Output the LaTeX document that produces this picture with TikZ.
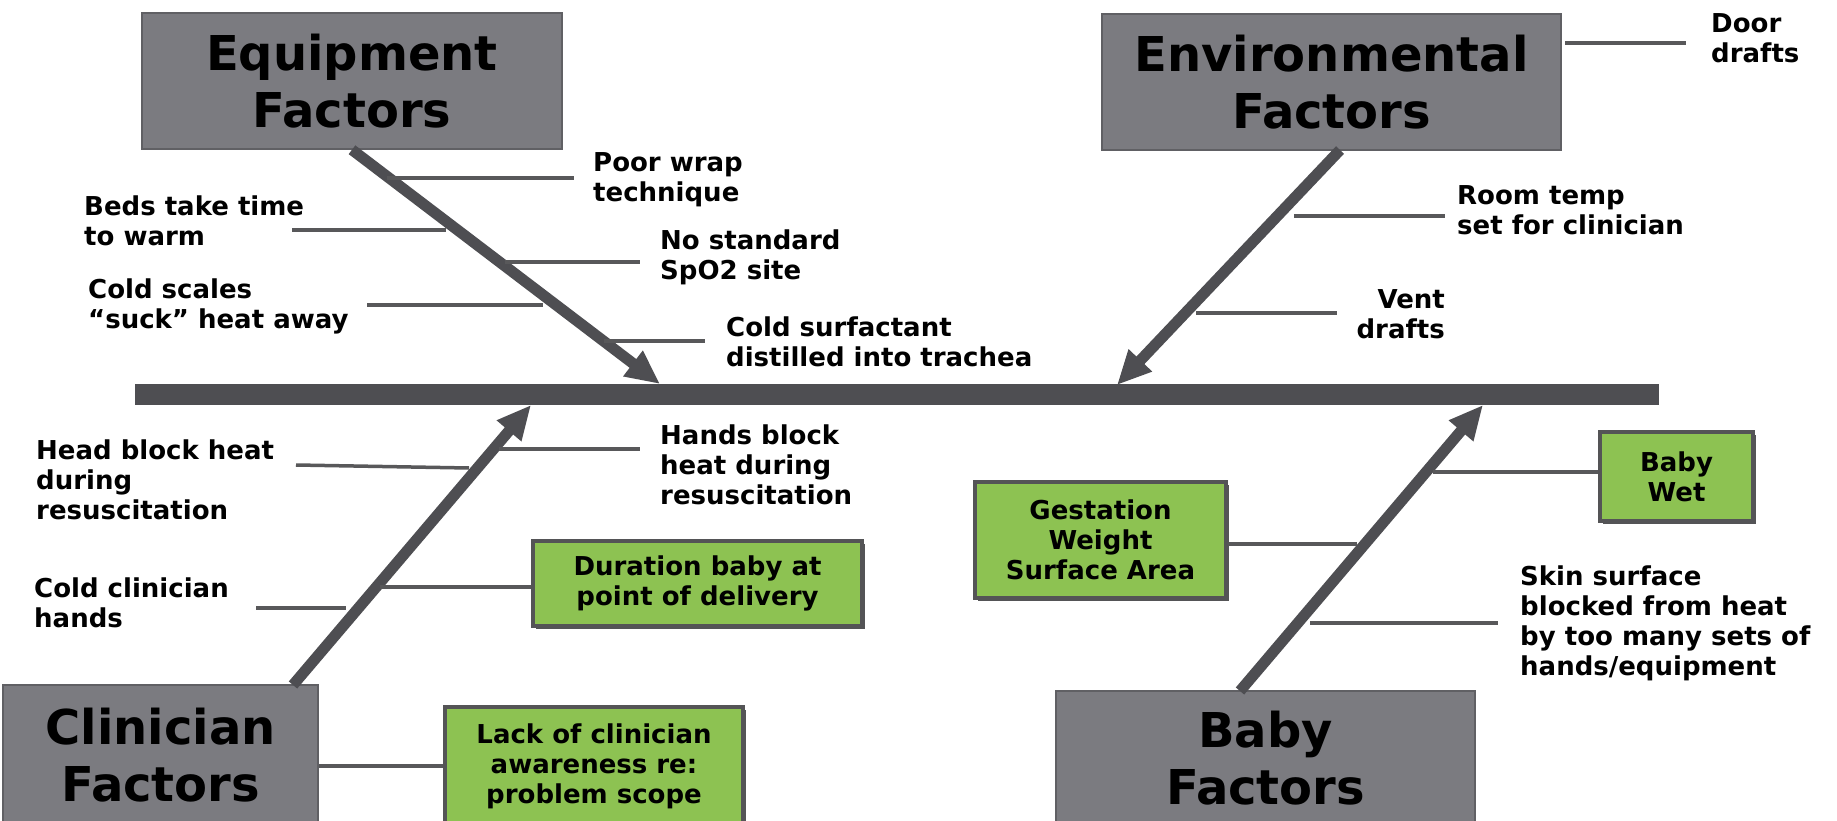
\documentclass[tikz,border=0pt]{standalone}
\usepackage{fontspec}
\setmainfont{DejaVu Sans}
\usetikzlibrary{arrows.meta,shadows,calc}
\definecolor{boxgray}{RGB}{123,123,128}
\definecolor{boxedge}{RGB}{96,96,100}
\definecolor{bonegray}{RGB}{78,78,82}
\definecolor{twiggray}{RGB}{88,88,90}
\definecolor{boxgreen}{RGB}{141,194,82}
\definecolor{greenedge}{RGB}{84,84,86}
\newcommand\FbTitle{\bfseries\fontsize{48}{57}\selectfont}
\newcommand\FbLabel{\bfseries\fontsize{26}{30}\selectfont}
\begin{document}
\begin{tikzpicture}[x=1pt,y=-1pt,
  title/.style={draw=boxedge,line width=1.5pt,fill=boxgray,font=\FbTitle,align=center,inner sep=0},
  cause/.style={font=\FbLabel,align=left,inner sep=0,anchor=west},
  gbox/.style={draw=greenedge,line width=4pt,fill=boxgreen,font=\FbLabel,align=center,inner sep=0,
    drop shadow={shadow xshift=3pt,shadow yshift=-3pt,fill=greenedge,opacity=1}},
  bone/.style={line width=11pt,draw=bonegray,-{Triangle[length=34pt,width=30pt]}},
  twig/.style={line width=3.5pt,draw=twiggray},
  spine/.style={line width=21pt,draw=bonegray}]
\useasboundingbox (0,0) rectangle (1837,821);
\clip (0,0) rectangle (1837,821);
\fill[white] (0,0) rectangle (1837,821);

% spine
\coordinate (sL) at (135,394.5);
\coordinate (sR) at (1659,394.5);
\draw[spine] (sL) -- (sR);

% category boxes
\node[title,minimum width=420,minimum height=136] (eq) at (352,81) {Equipment\\Factors};
\node[title,minimum width=459,minimum height=136] (env) at (1331.5,82) {Environmental\\Factors};
\node[title,minimum width=315,minimum height=140] (clin) at (160.5,755) {Clinician\\Factors};
\node[title,minimum width=419,minimum height=134] (baby) at (1265.5,758) {Baby\\Factors};

% main bones
\coordinate (eqTip) at (660,384);
\coordinate (envTail) at (1340,150);
\coordinate (envTip) at (1117,385);
\coordinate (clTail) at (293,685);
\coordinate (clTip) at (531,405);
\coordinate (bbTail) at (1240,691);
\coordinate (bbTip) at (1483,405);
\draw[bone] (eq.south) -- (eqTip);
\draw[bone] (envTail) -- (envTip);
\draw[bone] (clTail) -- (clTip);
\draw[bone] (bbTail) -- (bbTip);

% Equipment causes
\node[cause] (poor) at (593,180) {Poor wrap\\technique};
\node[cause] (beds) at (84,221) {Beds take time\\to warm};
\node[cause] (nostd) at (660,257) {No standard\\SpO2 site};
\node[cause] (scales) at (88,306) {Cold scales\\“suck” heat away};
\node[cause] (surf) at (726,342) {Cold surfactant\\distilled into trachea};
\draw[twig] (387,178) -- (574,178);
\draw[twig] (292,230) -- (446,230);
\draw[twig] (505,262) -- (640,262);
\draw[twig] (367,305) -- (543,305);
\draw[twig] (604,341) -- (705,341);

% Environmental causes
\node[cause] (door) at (1711,38) {Door\\drafts};
\node[cause] (room) at (1457,210) {Room temp\\set for clinician};
\node[cause,anchor=east,align=right] (vent) at (1445,314) {Vent\\drafts};
\draw[twig] (1565,43) -- (1686,43);
\draw[twig] (1294,216) -- (1445,216);
\draw[twig] (1196,313) -- (1337,313);

% Clinician causes
\node[cause] (hands) at (660,465) {Hands block\\heat during\\resuscitation};
\node[cause] (head) at (36,480) {Head block heat\\during\\resuscitation};
\node[cause] (coldh) at (34,603) {Cold clinician\\hands};
\node[gbox,minimum width=329,minimum height=85] (dur) at (697.5,583.5) {Duration baby at\\point of delivery};
\node[gbox,minimum width=298,minimum height=118] (lack) at (594,766) {Lack of clinician\\awareness re:\\problem scope};
\draw[twig] (499,449) -- (640,449);
\draw[twig] (296,465) -- (469,468);
\draw[twig] (256,608) -- (346,608);
\draw[twig] (380,587) -- (dur.west |- 0,587);
\draw[twig] (lack.west) -- (lack.west -| clin.east);

% Baby causes
\node[gbox,minimum width=153,minimum height=89] (wet) at (1676.5,476.5) {Baby\\Wet};
\node[gbox,minimum width=251,minimum height=116] (gest) at (1100.5,540) {Gestation\\Weight\\Surface Area};
\node[cause] (skin) at (1520,623) {Skin surface\\blocked from heat\\by too many sets of\\hands/equipment};
\draw[twig] (1433,472) -- (wet.west |- 0,472);
\draw[twig] (gest.east |- 0,544) -- (1357,544);
\draw[twig] (1310,623) -- (1498,623);
\end{tikzpicture}
\end{document}
